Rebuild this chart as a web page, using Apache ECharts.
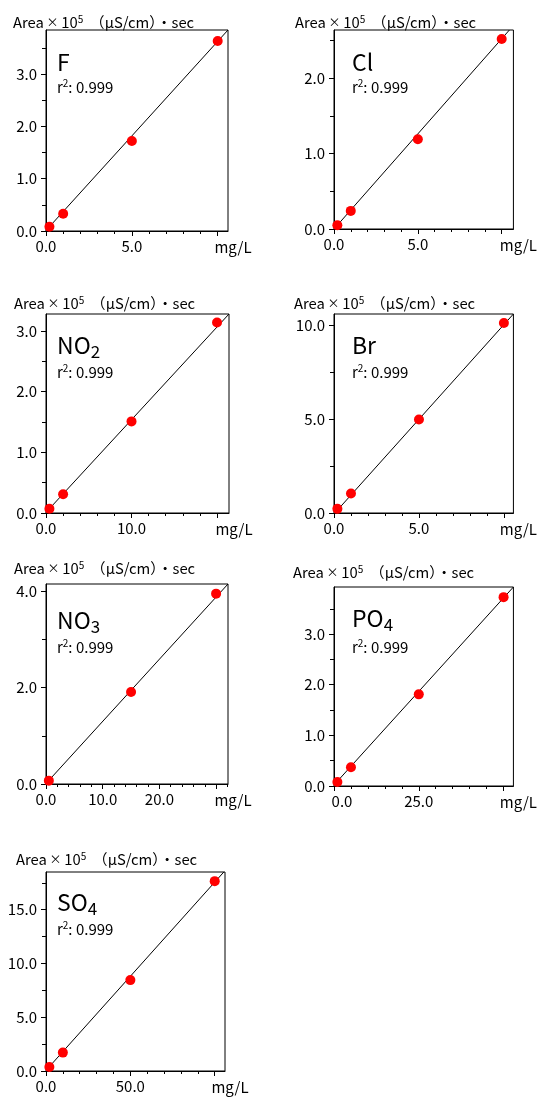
<!DOCTYPE html>
<html>
<head>
<meta charset="utf-8">
<script src="https://cdn.jsdelivr.net/npm/echarts@6/dist/echarts.min.js"></script>
<style>
html, body { margin: 0; padding: 0; background: #fff; }
#chart { width: 538px; height: 1097px; }
</style>
</head>
<body>
<div id="chart"></div>
<script>
// calibration data (x: mg/L, y: Area x 10^5)
var concF = [0.2, 1.0, 5.0, 10.0];
var areaF = [0.08, 0.33, 1.72, 3.63];
var concCl = [0.2, 1.0, 5.0, 10.0];
var areaCl = [0.05, 0.24, 1.19, 2.52];
var concNO2 = [0.4, 2.0, 10.0, 20.0];
var areaNO2 = [0.07, 0.31, 1.51, 3.14];
var concBr = [0.2, 1.0, 5.0, 10.0];
var areaBr = [0.22, 1.04, 4.98, 10.12];
var concNO3 = [0.5, 15.0, 30.0];
var areaNO3 = [0.07, 1.91, 3.95];
var concPO4 = [1.0, 5.0, 25.0, 50.0];
var areaPO4 = [0.08, 0.37, 1.81, 3.73];
var concSO4 = [2.0, 10.0, 50.0, 100.0];
var areaSO4 = [0.37, 1.71, 8.45, 17.65];

// fitted line ends [x, y]
var fitF = [[0, 0.01], [10.6, 3.84]];
var fitCl = [[0, 0.0], [10.46, 2.64]];
var fitNO2 = [[0, 0.01], [21.4, 3.28]];
var fitBr = [[0.05, 0], [10.56, 10.6]];
var fitNO3 = [[0, 0.01], [32.1, 4.15]];
var fitPO4 = [[0, 0.02], [52.9, 3.93]];
var fitSO4 = [[0.5, 0.14], [105.4, 18.5]];

// ions
var ionNames = ['{e|F}', '{e|Cl}', '{e|NO}{sub|2}', '{e|Br}', '{e|NO}{sub|3}', '{e|PO}{sub|4}', '{e|SO}{sub|4}'];
var r2 = ['0.999', '0.999', '0.999', '0.999', '0.999', '0.999', '0.999'];

// axes
var xMax = [10.6, 10.7, 21.4, 10.56, 32.1, 52.9, 106.1];
var yMax = [3.84, 2.64, 3.28, 10.6, 4.15, 3.93, 18.5];
var xStep = [5, 5, 10, 5, 10, 25, 50];
var yStep = [1, 1, 1, 5, 2, 1, 5];
var xTicks = [[0, 5, 10], [0, 5, 10], [0, 10, 20], [0, 5, 10], [0, 10, 20, 30], [0, 25, 50], [0, 50, 100]];
var xTickLabels = [[0, 5], [0, 5], [0, 10], [0, 5], [0, 10, 20], [0, 25], [0, 50]];
var yTicks = [[0, 1, 2, 3], [0, 1, 2], [0, 1, 2, 3], [0, 5, 10], [0, 2, 4], [0, 1, 2, 3], [0, 5, 10, 15]];

var conc = [concF, concCl, concNO2, concBr, concNO3, concPO4, concSO4];
var area = [areaF, areaCl, areaNO2, areaBr, areaNO3, areaPO4, areaSO4];
var fits = [fitF, fitCl, fitNO2, fitBr, fitNO3, fitPO4, fitSO4];

// layout (px)
var grids = [[46, 30, 182, 201], [334, 30, 182, 199], [46, 314, 183, 199], [334, 314, 180, 199],
             [46, 584, 182, 200], [334, 587, 181, 199], [46, 872, 179, 199]];
var unitPos = [[13, 22], [295, 22], [14, 303], [294, 303], [14, 568], [293, 572], [16, 859]];
var ionPos = [[57, 62, 87], [352, 62, 87], [57, 345, 372], [352, 345, 372], [57, 620, 647], [352, 618, 647], [57, 902, 929]];

var FONT = '"Noto Sans CJK JP", "Noto Sans", sans-serif';

var dom = document.getElementById('chart');
var myChart = echarts.init(dom, null, { renderer: 'canvas' });

var option = {
    animation: false,
    backgroundColor: '#fff',
    grid: [],
    xAxis: [],
    yAxis: [],
    series: [],
    graphic: []
};

for (var i = 0; i < grids.length; i++) {
    var g = grids[i];
    option.grid.push({
        left: g[0], top: g[1], width: g[2], height: g[3],
        show: true, borderColor: '#000', borderWidth: 1
    });

    var zeroPad = (i === 5) ? 16 : 0;
    option.xAxis.push({
        gridIndex: i, type: 'value', min: 0, max: xMax[i], interval: xStep[i],
        axisLine: { onZero: false, lineStyle: { color: '#000', width: 1 } },
        axisTick: { show: true, length: 5, customValues: xTicks[i], lineStyle: { color: '#000' } },
        minorTick: { show: true, splitNumber: 5, length: 3, lineStyle: { color: '#000' } },
        axisLabel: {
            customValues: xTickLabels[i], margin: 8, fontSize: 15, color: '#000', fontFamily: FONT,
            formatter: (function (pad) {
                return function (v) {
                    if (v === 0 && pad) return '{z|0.0}';
                    return v.toFixed(1);
                };
            })(zeroPad),
            rich: { z: { fontSize: 15, fontFamily: FONT, color: '#000', padding: [0, 0, 0, zeroPad] } }
        },
        splitLine: { show: false },
        name: 'mg/L', nameLocation: 'end', nameGap: 5,
        nameTextStyle: { align: 'center', verticalAlign: 'top', padding: [9, 0, 0, 0], fontSize: 15, color: '#000', fontFamily: FONT }
    });
    option.yAxis.push({
        gridIndex: i, type: 'value', min: 0, max: yMax[i], interval: yStep[i],
        axisLine: { onZero: false, lineStyle: { color: '#000', width: 1 } },
        axisTick: { show: true, length: 5, customValues: yTicks[i], lineStyle: { color: '#000' } },
        minorTick: { show: true, splitNumber: 2, length: 4, lineStyle: { color: '#000' } },
        axisLabel: {
            customValues: yTicks[i], margin: 9, fontSize: 15, color: '#000', fontFamily: FONT,
            formatter: function (v) { return v.toFixed(1); }
        },
        splitLine: { show: false }
    });

    option.series.push({
        type: 'line', xAxisIndex: i, yAxisIndex: i, data: fits[i],
        symbol: 'none', silent: true, z: 2,
        lineStyle: { color: '#000', width: 1 }
    });
    var pts = [];
    for (var k = 0; k < conc[i].length; k++) pts.push([conc[i][k], area[i][k]]);
    option.series.push({
        type: 'scatter', xAxisIndex: i, yAxisIndex: i, data: pts,
        symbolSize: 10, clip: false, z: 3,
        itemStyle: { color: '#ff0000', opacity: 1 }
    });

    option.graphic.push({
        type: 'text', x: unitPos[i][0], y: unitPos[i][1],
        style: {
            text: '{t|Area}{x| × }{t|10}{s|5}{t|  （μS/cm）・sec}',
            verticalAlign: 'middle', align: 'left',
            rich: {
                t: { fontSize: 14.8, fontFamily: FONT, fill: '#000', lineHeight: 16 },
                x: { fontSize: 12, fontFamily: FONT, fill: '#000', lineHeight: 16 },
                s: { fontSize: 10, fontFamily: FONT, fill: '#000', lineHeight: 11, verticalAlign: 'top' }
            }
        }
    });
    option.graphic.push({
        type: 'text', x: ionPos[i][0], y: ionPos[i][1],
        style: {
            text: ionNames[i], verticalAlign: 'middle', align: 'left',
            rich: {
                e: { fontSize: 23, fontFamily: FONT, fill: '#000' },
                sub: { fontSize: 17, fontFamily: FONT, fill: '#000', padding: [14, 0, 0, 0] }
            }
        }
    });
    option.graphic.push({
        type: 'text', x: ionPos[i][0], y: ionPos[i][2],
        style: {
            text: '{r|r}{s|2}{r|: ' + r2[i] + '}', verticalAlign: 'middle', align: 'left',
            rich: {
                r: { fontSize: 15, fontFamily: FONT, fill: '#000', lineHeight: 17 },
                s: { fontSize: 10, fontFamily: FONT, fill: '#000', lineHeight: 12, verticalAlign: 'top' }
            }
        }
    });
}

if (option && typeof option === 'object') {
    myChart.setOption(option, true);
}
</script>
</body>
</html>
